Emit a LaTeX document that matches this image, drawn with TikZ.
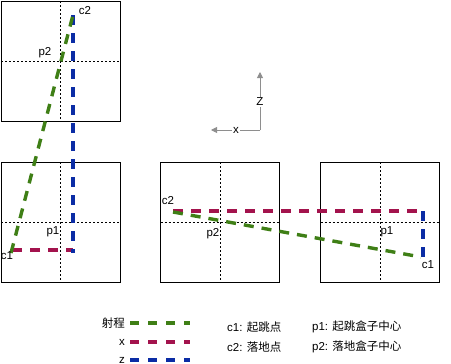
\documentclass[tikz,border=0pt]{standalone}
\usepackage{fontspec}
\setmainfont{Liberation Sans}
\newfontfamily\cjk{Noto Sans CJK SC}
\usetikzlibrary{arrows.meta}
\definecolor{jumpgreen}{HTML}{3F7F16}
\definecolor{jumpred}{HTML}{A3134D}
\definecolor{jumpblue}{HTML}{0B2CA5}
\definecolor{axisgray}{HTML}{8E8E8E}

\begin{document}
\begin{tikzpicture}[x=1pt, y=-1pt,
    box/.style={draw=black, line width=0.9pt},
    cross/.style={line width=0.7pt, dash pattern=on 2pt off 2pt},
    rangeline/.style={draw=jumpgreen, line width=3.4pt, dash pattern=on 10pt off 8pt},
    xline/.style={draw=jumpred, line width=3.4pt, dash pattern=on 10pt off 8pt},
    zline/.style={draw=jumpblue, line width=3.4pt, dash pattern=on 10pt off 8pt},
    axis/.style={draw=axisgray, line width=0.9pt, -{Triangle[length=6pt, width=6pt]}},
    lbl/.style={font=\fontsize{11.5}{13}\selectfont, inner sep=1pt}]
  \useasboundingbox (0,0) rectangle (451,364);

  % boxes with their centre lines
  \foreach \cx/\cy/\name in {60.5/61/topbox, 60.5/222/leftbox, 220/222/midbox, 380/222/rightbox} {
    \draw[box] (\cx-59.5,\cy-60) rectangle (\cx+59.5,\cy+60);
    \draw[cross] (\cx,\cy-60) -- (\cx,\cy+60);
    \draw[cross] (\cx-59.5,\cy) -- (\cx+59.5,\cy);
    \coordinate (\name) at (\cx,\cy);
  }

  % side view
  \coordinate (sc1) at (12,250);
  \coordinate (sc2) at (73,15);
  \coordinate (sz) at (73,250);
  \draw[xline] (sc1) -- (sz);
  \draw[zline] (sc2) -- (73,253);
  \draw[rangeline] (11,253) -- (sc2);
  \node[lbl] (sc2lbl) at (85,11) {c2};
  \node[lbl] (sp2lbl) at (45,53) {p2};
  \node[lbl] (sp1lbl) at (53,232) {p1};
  \node[lbl] (sc1lbl) at (7,256) {c1};

  % top view
  \coordinate (tc2) at (173,211);
  \coordinate (tc1) at (423,258);
  \coordinate (tx) at (423,211);
  \draw[xline] (tc2) -- (tx);
  \draw[zline] (tx) -- (tc1);
  \draw[rangeline] (173,212) -- (421,257);
  \node[lbl] (tc2lbl) at (168,201) {c2};
  \node[lbl] (tp2lbl) at (213,234) {p2};
  \node[lbl] (tp1lbl) at (387,232) {p1};
  \node[lbl] (tc1lbl) at (428,265) {c1};

  % axes
  \coordinate (origin) at (260,130);
  \coordinate (zend) at (260,72);
  \coordinate (xend) at (211,130);
  \draw[axis] (origin) -- (zend);
  \draw[axis] (origin) -- (xend);
  \node[lbl, fill=white, inner sep=1.5pt] (zlbl) at (260,102) {Z};
  \node[lbl, fill=white, inner sep=1.5pt] (xlbl) at (236,130) {x};

  % legend
  \node[lbl, anchor=east] (leg1) at (126,323) {\cjk 射程};
  \node[lbl, anchor=east] (leg2) at (126,342) {x};
  \node[lbl, anchor=east] (leg3) at (126,360) {z};
  \draw[rangeline, dash pattern=on 9pt off 9pt] (leg1.east)++(4,0) -- ++(60,0);
  \draw[xline, dash pattern=on 9pt off 9pt] (leg2.east)++(4,0) -- ++(60,0);
  \draw[zline, dash pattern=on 9pt off 9pt] (leg3.east)++(4,0) -- ++(60,0);
  \node[lbl, anchor=west] (keyc1) at (226,327) {c1: {\cjk 起跳点}};
  \node[lbl, anchor=west] (keyc2) at (226,347) {c2: {\cjk 落地点}};
  \node[lbl, anchor=west] (keyp1) at (311,327) {p1: {\cjk 起跳盒子中心}};
  \node[lbl, anchor=west] (keyp2) at (311,347) {p2: {\cjk 落地盒子中心}};
\end{tikzpicture}
\end{document}
